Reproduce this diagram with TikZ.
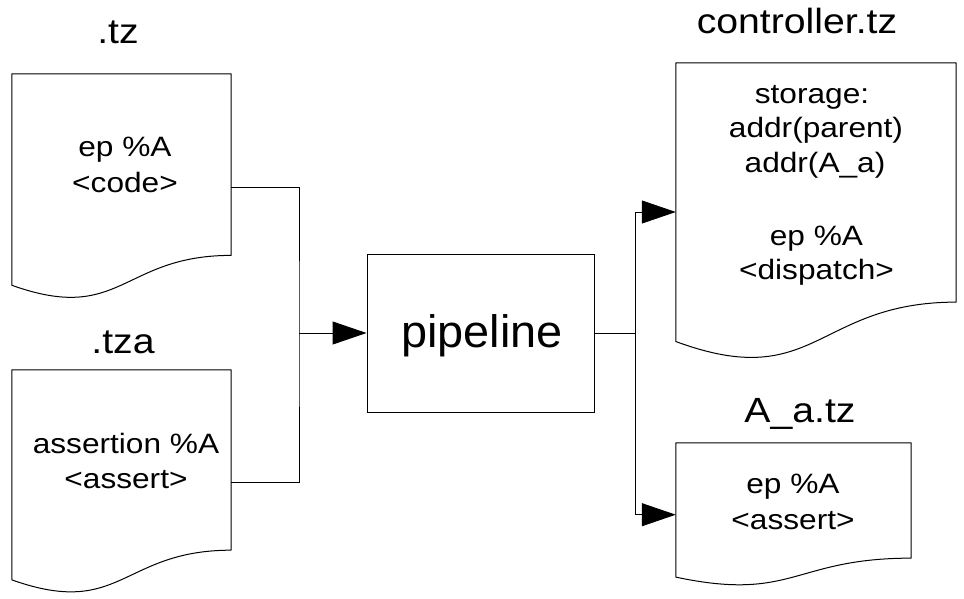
\documentclass[tikz,border=0pt]{standalone}
\usepackage{fontspec}
\setmainfont{Liberation Sans}
\newfontfamily\bodyf[FakeStretch=1.13]{Liberation Sans}
\newfontfamily\titlef[FakeStretch=1.12]{Liberation Sans}
\newfontfamily\pipef[FakeStretch=1.03]{Liberation Sans}
\usetikzlibrary{arrows.meta,calc}
\newcommand\docpath[1]{%
  \draw[docline] (#1.north west) -- (#1.north east)
    -- ($(#1.north east)!0.802!(#1.south east)$)
    .. controls ($(#1.north)!0.802!(#1.south)$) and ($(#1.north)!1.1075!(#1.south)$)
    .. ($(#1.north west)!0.934!(#1.south west)$) -- cycle;}
\begin{document}
\begin{tikzpicture}[x=1pt,y=-1pt,
  docbox/.style={rectangle,draw=none,inner sep=0pt,minimum width=#1},
  docline/.style={draw=black,line width=1pt,line join=round},
  body/.style={anchor=base,inner sep=0pt,font=\bodyf\fontsize{28}{35}\selectfont},
  title/.style={anchor=base,inner sep=0pt,font=\titlef\fontsize{35}{40}\selectfont},
  conn/.style={draw=black,line width=1pt},
  arr/.style={conn,-{Triangle[length=34pt,width=23pt]}}]
\useasboundingbox (0,0) rectangle (964,598);
% document shapes
\node[docbox=219pt,minimum height=226pt] (doc1) at (121.5,187) {};
\node[docbox=219pt,minimum height=224.5pt] (doc2) at (121.5,482.25) {};
\node[docbox=280pt,minimum height=298pt] (ctrl) at (816,212) {};
\node[docbox=235pt,minimum height=143.4pt] (aa) at (793.5,514.7) {};
\docpath{doc1}
\docpath{doc2}
\docpath{ctrl}
\docpath{aa}
% pipeline box
\node[rectangle,draw=black,line width=1pt,minimum width=227pt,minimum height=158pt,inner sep=0pt] (pipe) at (480.5,333) {};
\node[anchor=base,inner sep=0pt,font=\pipef\fontsize{45.5}{50}\selectfont] (pipet) at (482,347) {pipeline};
% titles
\node[title] (tt1) at (118,43) {.tz};
\node[title] (tt2) at (123,353) {.tza};
\node[title] (tt3) at (797,33) {controller.tz};
\node[title] (tt4) at (800,422) {A\_a.tz};
% texts
\node[body] (t1a) at (125,156) {ep \%A};
\node[body] (t1b) at (125,192) {<code>};
\node[body] (t2a) at (126,453) {assertion \%A};
\node[body] (t2b) at (126,488) {<assert>};
\node[body] (t3a) at (812,103) {storage:};
\node[body] (t3b) at (816,137) {addr(parent)};
\node[body] (t3c) at (815,172) {addr(A\_a)};
\node[body] (t3d) at (816.5,245) {ep \%A};
\node[body] (t3e) at (816.5,279) {<dispatch>};
\node[body] (t4a) at (793,493) {ep \%A};
\node[body] (t4b) at (793,529) {<assert>};
% connectors
\coordinate (jl) at (299,333);
\coordinate (jr) at (635,333);
\draw[conn] (doc1.east) -| (jl) |- (doc2.east);
\draw[arr] (jl) -- (pipe.west);
\draw[conn] (pipe.east) -- (jr);
\draw[arr] (jr) |- (ctrl.west);
\draw[arr] (jr) |- (aa.west);
\end{tikzpicture}
\end{document}
